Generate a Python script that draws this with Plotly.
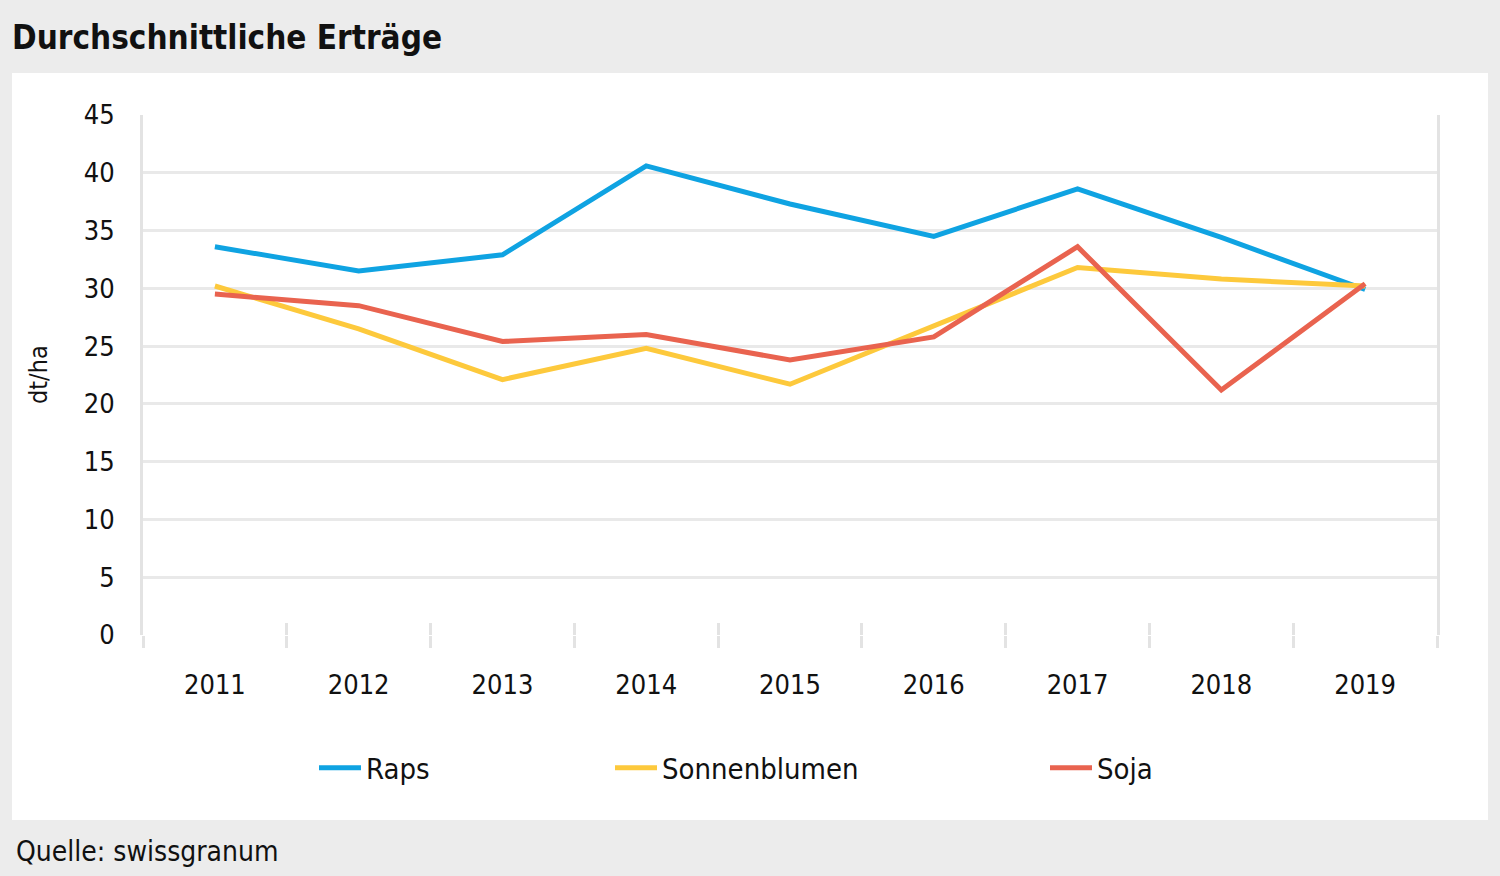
import plotly.graph_objects as go

years = ["2011", "2012", "2013", "2014", "2015", "2016", "2017", "2018", "2019"]
raps = [33.6, 31.5, 32.9, 40.6, 37.3, 34.5, 38.6, 34.4, 29.9]
sonnenblumen = [30.2, 26.5, 22.1, 24.8, 21.7, 26.7, 31.8, 30.8, 30.2]
soja = [29.5, 28.5, 25.4, 26.0, 23.8, 25.8, 33.6, 21.2, 30.4]
y_ticks = [0, 5, 10, 15, 20, 25, 30, 35, 40, 45]

FONT = "DejaVu Sans Condensed, DejaVu Sans, sans-serif"
W, H = 1500, 876
L, R, T, B = 143, 1437, 115, 635
pw, ph = R - L, B - T

def px(x):
    return (x - L) / pw

def py(y):
    return (B - y) / ph

fig = go.Figure()
series = [("Raps", raps, "#0fa3e2", "legend"),
          ("Sonnenblumen", sonnenblumen, "#fdc93c", "legend2"),
          ("Soja", soja, "#e9634f", "legend3")]
for name, vals, col, lg in series:
    fig.add_trace(go.Scatter(x=years, y=vals, name=name, mode="lines",
                             line=dict(color=col, width=5), legend=lg))

# empty helper trace so the secondary tick axis is drawn
fig.add_trace(go.Scatter(x=[], y=[], xaxis="x2", showlegend=False, hoverinfo="skip"))

legend_common = dict(orientation="h", yanchor="middle", xanchor="left",
                     font=dict(family=FONT, size=29, color="#111"),
                     itemwidth=42, bgcolor="rgba(0,0,0,0)")
fig.update_layout(
    width=W, height=H,
    margin=dict(l=L, r=W - R, t=T, b=H - B),
    paper_bgcolor="#ececec",
    plot_bgcolor="white",
    showlegend=True,
    font=dict(family=FONT, size=27, color="#111"),
    legend=dict(x=px(314), y=py(768), **legend_common),
    legend2=dict(x=px(610), y=py(768), **legend_common),
    legend3=dict(x=px(1045), y=py(768), **legend_common),
    xaxis=dict(type="category", range=[-0.5, 8.5], tickson="boundaries",
               ticks="outside", ticklen=12, tickwidth=3, tickcolor="#e3e3e3",
               showgrid=False, showline=False, zeroline=False,
               ticklabelstandoff=31,
               tickfont=dict(family=FONT, size=27, color="#111")),
    xaxis2=dict(overlaying="x", anchor="y", side="bottom", range=[-0.5, 8.5],
                tickmode="array", tickvals=[i - 0.5 for i in range(len(years) + 1)],
                ticks="inside", ticklen=12, tickwidth=3, tickcolor="#e3e3e3",
                showticklabels=False, showgrid=False, zeroline=False, showline=False),
    yaxis=dict(range=[0, 45], tickvals=y_ticks, showgrid=True,
               gridcolor="#e9e9e9", gridwidth=3, zeroline=False,
               showline=True, linecolor="#e3e3e3", linewidth=3, mirror=True,
               ticks="", ticklabelstandoff=20,
               tickfont=dict(family=FONT, size=27, color="#111")),
    annotations=[
        dict(text="<b>Durchschnittliche Erträge</b>", xref="paper", yref="paper",
             x=px(10), y=py(37), xanchor="left", yanchor="middle", showarrow=False,
             font=dict(family=FONT, size=33, color="#111")),
        dict(text="Quelle: swissgranum", xref="paper", yref="paper",
             x=px(14), y=py(851), xanchor="left", yanchor="middle", showarrow=False,
             font=dict(family=FONT, size=28, color="#111")),
        dict(text="dt/ha", xref="paper", yref="paper", textangle=-90,
             x=px(38), y=py(375), xanchor="center", yanchor="middle", showarrow=False,
             font=dict(family=FONT, size=25, color="#111")),
    ],
    shapes=[dict(type="rect", xref="paper", yref="paper",
                 x0=px(12), x1=px(1488), y0=py(820), y1=py(73),
                 fillcolor="white", line=dict(width=0), layer="below")],
)

fig.write_html("out.html", config={"displayModeBar": False},
               post_script="document.body.style.margin='0';")
